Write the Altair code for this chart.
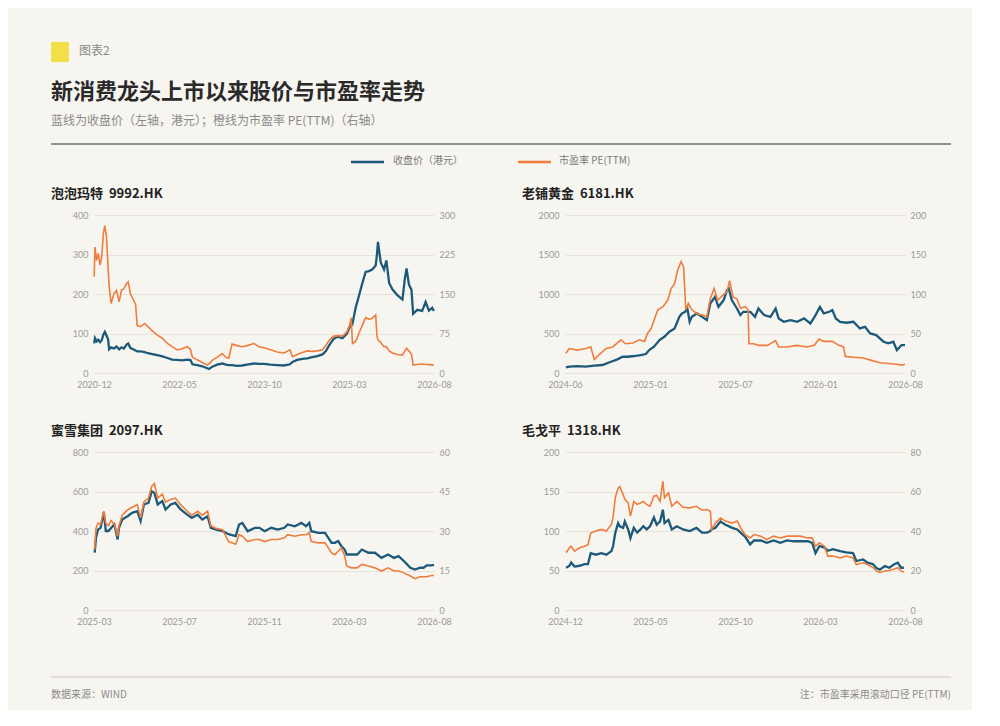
import json
import altair as alt
import pandas as pd

BG = "#f7f5f0"
BLUE = "#1d5a7a"
ORANGE = "#ef7d3d"
GRID = "#e6e3dd"
LABEL = "#9a9a9a"
CJK = "Noto Sans CJK SC"

# ---------------- data ----------------
# 泡泡玛特 9992.HK
p1_dates = ["2020-12-02","2020-12-07","2020-12-17","2020-12-27","2021-01-07","2021-01-17","2021-01-27","2021-02-05","2021-02-15","2021-02-25",
            "2021-03-03","2021-03-15","2021-04-01","2021-04-17","2021-05-03","2021-05-17","2021-06-01","2021-06-17","2021-06-27","2021-07-11",
            "2021-07-27","2021-08-11","2021-08-21","2021-09-11","2021-10-05","2021-10-25","2021-11-21","2021-12-21","2022-01-21","2022-02-21",
            "2022-03-21","2022-04-21","2022-05-21","2022-06-21","2022-07-11","2022-07-23","2022-08-21","2022-09-21","2022-10-21","2022-11-01",
            "2022-11-21","2022-12-21","2023-01-21","2023-02-11","2023-03-01","2023-03-21","2023-04-21","2023-05-21","2023-06-21","2023-08-01",
            "2023-09-01","2023-10-01","2023-11-11","2023-12-21","2024-02-01","2024-03-07","2024-03-23","2024-04-21","2024-05-21","2024-06-21",
            "2024-07-21","2024-08-21","2024-09-21","2024-10-11","2024-11-01","2024-11-27","2024-12-21","2025-01-21","2025-02-17","2025-03-07",
            "2025-03-15","2025-03-23","2025-04-11","2025-05-01","2025-05-21","2025-06-11","2025-07-01","2025-07-21","2025-08-11","2025-08-19",
            "2025-08-25","2025-09-11","2025-10-01","2025-10-15","2025-11-01","2025-11-21","2025-12-21","2026-01-21","2026-02-05","2026-02-15",
            "2026-03-01","2026-03-17","2026-03-27","2026-04-21","2026-05-21","2026-06-11","2026-07-01","2026-07-21","2026-07-31"]
p1_price = [75,88,80,84,78,83,97,104,95,85,
            60,65,62,67,60,65,62,72,75,63,
            60,57,55,55,53,50,48,45,42,38,
            34,33,32,34,33,22,20,17,12,10,
            16,21,24,21,20,20,18,19,21,24,
            23,23,21,20,19,22,28,33,36,37,
            40,43,47,55,70,86,92,88,100,118,
            130,125,165,195,226,256,258,262,272,300,
            332,280,262,285,228,212,197,186,240,265,
            225,210,150,160,157,180,158,165,157]
p1_pe = [183,239,214,227,205,220,265,280,258,200,
         165,132,150,157,135,157,160,170,173,150,
         140,130,90,88,94,88,80,72,66,56,
         50,44,46,50,45,30,25,20,15,17,
         24,30,37,30,28,55,52,50,52,56,
         50,48,44,40,38,44,31,35,39,42,
         41,42,44,52,62,70,71,70,78,92,
         105,56,60,75,90,105,102,104,110,70,
         63,58,50,50,42,38,35,34,42,47,
         42,36,15,16,17,16,16,15,15]

# 老铺黄金 6181.HK
p2_price_dates = ["2024-06-03","2024-06-11","2024-06-30","2024-07-19","2024-08-08","2024-08-27","2024-09-16","2024-10-01","2024-10-13","2024-10-24",
                  "2024-11-09","2024-11-24","2024-12-06","2024-12-14","2024-12-25","2025-01-07","2025-01-18","2025-01-30","2025-02-11","2025-02-22",
                  "2025-02-28","2025-03-08","2025-03-12","2025-03-18","2025-03-23","2025-04-04","2025-04-16","2025-04-27","2025-05-05","2025-05-16",
                  "2025-05-24","2025-06-05","2025-06-13","2025-06-17","2025-06-24","2025-07-06","2025-07-14","2025-07-21","2025-08-06","2025-08-17",
                  "2025-08-25","2025-09-07","2025-09-22","2025-10-04","2025-10-11","2025-10-23","2025-11-08","2025-11-23","2025-12-09","2025-12-24",
                  "2026-01-05","2026-01-15","2026-01-24","2026-02-06","2026-02-13","2026-02-21","2026-03-03","2026-03-18","2026-04-03","2026-04-18",
                  "2026-04-30","2026-05-12","2026-05-26","2026-06-12","2026-06-23","2026-07-05","2026-07-13","2026-07-24","2026-08-01"]
p2_price = [72,80,88,80,93,101,143,173,206,206,
            215,227,240,290,333,417,459,522,564,711,
            754,775,838,648,711,754,711,669,880,964,
            838,922,1048,1069,922,817,733,775,775,711,
            817,733,711,817,691,648,669,648,691,627,
            733,838,754,775,796,691,648,636,648,564,
            585,501,480,396,375,396,290,354,354]
p2_pe_dates = ["2024-06-03","2024-06-11","2024-06-30","2024-07-19","2024-07-31","2024-08-08","2024-08-19","2024-09-05","2024-09-20","2024-10-09",
               "2024-10-20","2024-11-06","2024-11-21","2024-12-03","2024-12-10","2024-12-18","2025-01-03","2025-01-15","2025-01-26","2025-02-03",
               "2025-02-11","2025-02-18","2025-02-26","2025-03-04","2025-03-09","2025-03-15","2025-03-23","2025-04-04","2025-04-19","2025-04-27",
               "2025-05-05","2025-05-14","2025-05-22","2025-06-02","2025-06-13","2025-06-19","2025-06-27","2025-07-06","2025-07-14","2025-07-25",
               "2025-08-01","2025-08-03","2025-08-14","2025-08-25","2025-09-15","2025-10-04","2025-10-11","2025-10-30","2025-11-23","2025-12-16",
               "2026-01-02","2026-01-13","2026-01-24","2026-02-13","2026-02-28","2026-03-11","2026-03-15","2026-04-03","2026-04-26","2026-05-15",
               "2026-06-04","2026-06-23","2026-07-13","2026-07-24","2026-08-01"]
p2_pe = [25,31,29,31,33,17,23,31,33,42,
         37,38,42,40,50,56,80,84,92,107,
         113,130,141,134,80,88,80,75,73,71,
         94,107,92,98,103,117,96,94,82,84,
         80,37,37,35,35,41,33,33,35,33,
         35,43,40,40,35,33,21,20,19,16,
         13,12,11,10,11]

# 蜜雪集团 2097.HK
p3_dates = ["2025-03-02","2025-03-04","2025-03-07","2025-03-11","2025-03-16","2025-03-19","2025-03-23","2025-03-27","2025-04-01","2025-04-06",
            "2025-04-08","2025-04-13","2025-04-21","2025-04-28","2025-05-06","2025-05-11","2025-05-16","2025-05-23","2025-05-28","2025-06-01",
            "2025-06-06","2025-06-13","2025-06-18","2025-06-26","2025-07-03","2025-07-11","2025-07-21","2025-07-28","2025-08-06","2025-08-13",
            "2025-08-21","2025-08-26","2025-09-03","2025-09-13","2025-09-22","2025-10-03","2025-10-08","2025-10-13","2025-10-21","2025-11-01",
            "2025-11-08","2025-11-16","2025-11-26","2025-12-06","2025-12-16","2025-12-21","2026-01-01","2026-01-11","2026-01-18","2026-01-23",
            "2026-01-26","2026-02-06","2026-02-16","2026-02-26","2026-03-03","2026-03-08","2026-03-13","2026-03-18","2026-03-21","2026-03-28",
            "2026-04-06","2026-04-13","2026-04-23","2026-05-03","2026-05-13","2026-05-23","2026-06-01","2026-06-08","2026-06-16","2026-06-26",
            "2026-07-03","2026-07-11","2026-07-16","2026-07-21","2026-07-28","2026-08-01"]
p3_price = [290,365,407,416,495,400,400,415,433,357,
            416,458,475,492,500,450,534,542,601,593,
            534,551,509,534,542,509,483,466,483,458,
            475,416,407,399,384,374,433,441,399,416,
            416,399,416,407,416,433,424,441,424,441,
            399,391,391,340,340,349,323,306,281,281,
            281,306,290,290,264,281,264,273,248,214,
            205,214,214,226,226,229]
p3_pe = [23,31,33,32.5,37.5,33,32,34,32.5,28,
         32,36,38,39,40,35,41,42.5,47,48,
         42.5,44,41,42,42.5,40,37.5,36,37.5,36,
         37.5,32,31,30.5,26,25,28.6,28,26,26.8,
         26.8,26,26.8,26.8,27.4,28.6,28,28.6,28.6,29.3,
         26,25.5,25.5,21.7,21,22.4,23.6,20.5,16.7,16,
         16,17.3,16.7,16,14.8,16,14.8,14.8,14.1,12.9,
         11.9,12.6,12.6,12.6,13.1,13.1]

# 毛戈平 1318.HK
p4_dates = ["2024-12-03","2024-12-09","2024-12-12","2024-12-18","2024-12-27","2025-01-05","2025-01-11","2025-01-16","2025-01-25","2025-02-04",
            "2025-02-13","2025-02-22","2025-02-25","2025-03-01","2025-03-06","2025-03-09","2025-03-15","2025-03-18","2025-03-24","2025-03-28",
            "2025-04-03","2025-04-09","2025-04-15","2025-04-20","2025-04-26","2025-05-02","2025-05-09","2025-05-14","2025-05-20","2025-05-25",
            "2025-05-28","2025-06-04","2025-06-10","2025-06-19","2025-06-30","2025-07-12","2025-07-24","2025-08-03","2025-08-12","2025-08-18",
            "2025-08-20","2025-08-27","2025-09-05","2025-09-14","2025-09-26","2025-10-05","2025-10-11","2025-10-19","2025-10-28","2025-11-04",
            "2025-11-16","2025-11-27","2025-12-09","2025-12-21","2026-01-02","2026-01-14","2026-01-26","2026-02-08","2026-02-16","2026-02-22",
            "2026-03-01","2026-03-10","2026-03-16","2026-03-25","2026-04-07","2026-04-18","2026-04-30","2026-05-06","2026-05-18","2026-05-26",
            "2026-06-05","2026-06-11","2026-06-17","2026-06-26","2026-07-04","2026-07-13","2026-07-19","2026-07-25","2026-07-30"]
p4_price = [53.5,56,60,55,56,58,58,72,70,72,
            70,74.5,81,98,110,106,104,112,102,91,
            104,98,102,106,102,106,117,108,112,127,
            110,114,102,106,102,100,104,98,98,100,
            102,104,112,108,104,102,98,93,83,88,
            88,85,88,85,88,87,87,87,85,72,
            81,79,75,77,74.5,73,72,62,64,60,
            58,53,51,55.5,53.5,58,60,53.5,53.5]
p4_pe = [29,31.5,32.3,29.8,31.5,32.3,33,39,40,40.8,
         40,43.3,47,57,61.7,62.5,58.4,56,54.2,47.5,
         55,53.5,54.2,55,53.5,52.5,57.6,58,55,65.2,
         56.8,59.3,52.5,55,52,51.7,52.5,50.5,50.9,50,
         40.8,44,46.6,45,44,45,41.6,38.2,36.5,38.2,
         37.4,35.7,37.4,36.5,37.4,37.4,37.4,36.5,36.5,32.3,
         34,32.3,27.3,27.3,26.4,27.3,26.4,23,23.9,23,
         21.5,19.7,19,19.7,20,20.8,21.4,19.7,19.2]

# axis tick labels
p1_xlabels = ["2020-12", "2022-05", "2023-10", "2025-03", "2026-08"]
p2_xlabels = ["2024-06", "2025-01", "2025-07", "2026-01", "2026-08"]
p3_xlabels = ["2025-03", "2025-07", "2025-11", "2026-03", "2026-08"]
p4_xlabels = ["2024-12", "2025-05", "2025-10", "2026-03", "2026-08"]
p1_left, p1_right = [0, 100, 200, 300, 400], [0, 75, 150, 225, 300]
p2_left, p2_right = [0, 500, 1000, 1500, 2000], [0, 50, 100, 150, 200]
p3_left, p3_right = [0, 200, 400, 600, 800], [0, 15, 30, 45, 60]
p4_left, p4_right = [0, 50, 100, 150, 200], [0, 20, 40, 60, 80]

# texts
TAG = "图表2"
TITLE = "新消费龙头上市以来股价与市盈率走势"
SUBTITLE = "蓝线为收盘价（左轴，港元）；橙线为市盈率 PE(TTM)（右轴）"
LEG_PRICE = "收盘价（港元）"
LEG_PE = "市盈率 PE(TTM)"
SOURCE = "数据来源：WIND"
NOTE = "注：市盈率采用滚动口径 PE(TTM)"
NAMES = ["泡泡玛特\u00a0\u00a09992.HK", "老铺黄金\u00a0\u00a06181.HK",
         "蜜雪集团\u00a0\u00a02097.HK", "毛戈平\u00a0\u00a01318.HK"]

W, H = 340, 158


def ms(s):
    return int(pd.Timestamp(s, tz="UTC").value // 10**6)


def text(t, x, y, size, color, weight="normal", align="left"):
    return alt.Chart(pd.DataFrame({"t": [t]})).mark_text(
        align=align, baseline="middle", fontSize=size, color=color,
        font=CJK, fontWeight=weight
    ).encode(x=alt.value(x), y=alt.value(y), text="t:N")


def hrule(x1, x2, y, color, width):
    return alt.Chart(pd.DataFrame({"a": [0]})).mark_rule(
        color=color, strokeWidth=width
    ).encode(x=alt.value(x1), x2=alt.value(x2), y=alt.value(y))


def panel(name, pdates, price, edates, pe, xlabels, left, right, extra=()):
    t0, t1 = ms(xlabels[0] + "-01"), ms(xlabels[-1] + "-01")
    step = (t1 - t0) / 4
    vals = [int(round(t0 + i * step)) for i in range(5)]
    lexpr = f"{json.dumps(xlabels)}[round((datum.value - {t0}) / {step})]"
    x = alt.X("date:T", scale=alt.Scale(domain=[t0, t1]),
              axis=alt.Axis(values=vals, labelExpr=lexpr, title=None, grid=False,
                            domain=False, ticks=False, tickSize=0, labelPadding=7,
                            labelFlush=False, labelOverlap=False, labelColor=LABEL,
                            labelFontSize=9, labelFont="Lato"))
    dfp = pd.DataFrame({"date": pdates, "v": price})
    dfe = pd.DataFrame({"date": edates, "v": pe})
    orange = alt.Chart(dfe).mark_line(color=ORANGE, strokeWidth=1.6).encode(
        x=x,
        y=alt.Y("v:Q", scale=alt.Scale(domain=[right[0], right[-1]], nice=False),
                axis=alt.Axis(orient="right", values=right, format="d", title=None,
                              grid=False, domain=False, ticks=False, tickSize=0,
                              labelPadding=5, labelColor=LABEL, labelFontSize=9,
                              labelFont="Lato")))
    blue = alt.Chart(dfp).mark_line(color=BLUE, strokeWidth=2.3).encode(
        x=x,
        y=alt.Y("v:Q", scale=alt.Scale(domain=[left[0], left[-1]], nice=False),
                axis=alt.Axis(orient="left", values=left, format="d", title=None,
                              grid=True, gridColor=GRID, gridWidth=1, domain=False,
                              ticks=False, tickSize=0, labelPadding=6,
                              labelColor=LABEL, labelFontSize=9, labelFont="Lato")))
    ttl = text(name, -43, -21, 13, "#222222", weight="bold")
    layers = [blue, orange, ttl] + list(extra)
    return alt.layer(*layers).resolve_scale(y="independent").properties(width=W, height=H)


header = [
    alt.Chart(pd.DataFrame({"a": [0]})).mark_rect(color="#f3df48").encode(
        x=alt.value(-43), x2=alt.value(-25), y=alt.value(-173), y2=alt.value(-153)),
    text(TAG, -15, -164, 12, "#8a8a8a"),
    text(TITLE, -43, -123, 22, "#2a2a2a", weight="bold"),
    text(SUBTITLE, -43, -94, 12, "#8a8a8a"),
    hrule(-43, 857, -71, "#707070", 1.5),
    hrule(257, 290, -53, BLUE, 2.5),
    text(LEG_PRICE, 299, -54, 10, "#7a7a7a"),
    hrule(424, 457, -53, ORANGE, 2.5),
    text(LEG_PE, 465, -54, 10, "#7a7a7a"),
]
footer = [
    hrule(-43, 857, 225, "#e2dfd9", 2),
    text(SOURCE, -43, 243, 10, "#8a8a8a"),
    text(NOTE, 857, 243, 10, "#8a8a8a", align="right"),
]

c1 = panel(NAMES[0], p1_dates, p1_price, p1_dates, p1_pe, p1_xlabels, p1_left, p1_right, header)
c2 = panel(NAMES[1], p2_price_dates, p2_price, p2_pe_dates, p2_pe, p2_xlabels, p2_left, p2_right)
c3 = panel(NAMES[2], p3_dates, p3_price, p3_dates, p3_pe, p3_xlabels, p3_left, p3_right, footer)
c4 = panel(NAMES[3], p4_dates, p4_price, p4_dates, p4_pe, p4_xlabels, p4_left, p4_right)

chart = alt.concat(
    c1, c2, c3, c4, columns=2, spacing={"row": 79, "column": 131}, bounds="flush"
).properties(
    padding={"left": 42, "top": 34, "right": 20, "bottom": 10},
    background=BG,
).configure_view(stroke=None)

chart.save("out.html", embed_options={"renderer": "svg", "actions": False})
